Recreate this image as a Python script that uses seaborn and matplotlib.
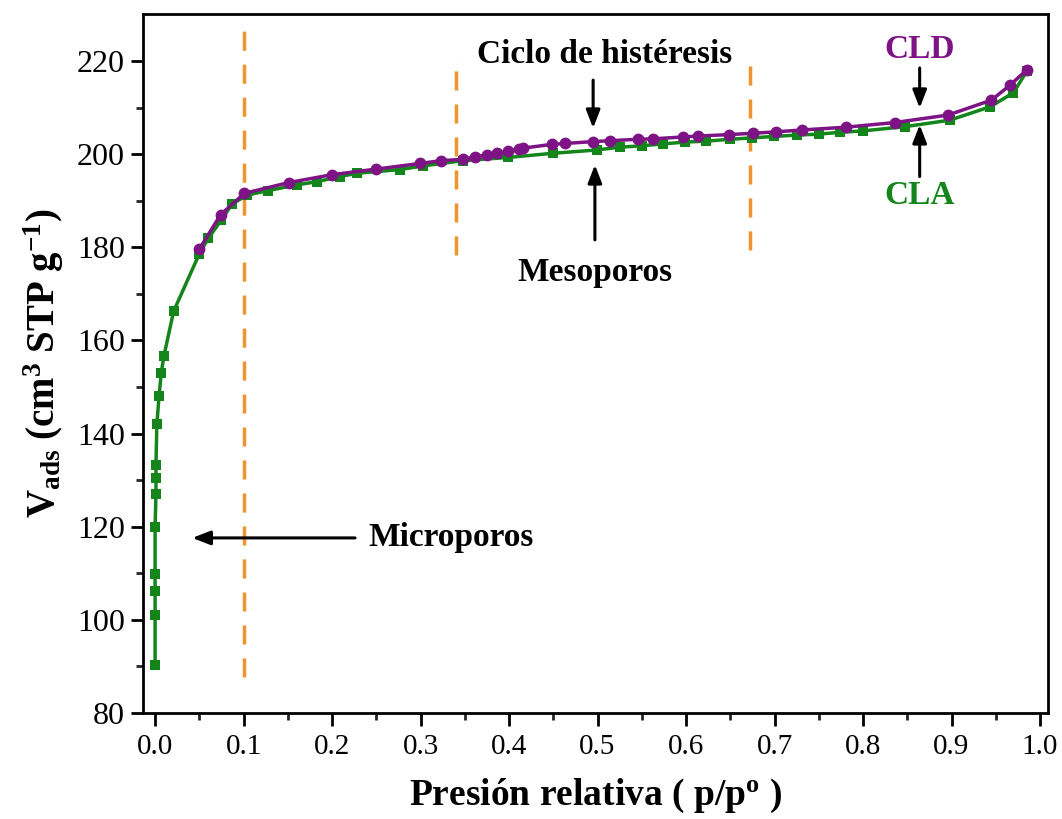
import numpy as np
import pandas as pd
import matplotlib
matplotlib.use("Agg")
import matplotlib.pyplot as plt
import seaborn as sns

# ---- data ----
cla_p = [0.000, 0.000, 0.000, 0.000, 0.000, 0.001, 0.001, 0.001, 0.002, 0.0045,
         0.007, 0.010, 0.021, 0.050, 0.060, 0.075, 0.087, 0.104, 0.128, 0.160,
         0.183, 0.209, 0.228, 0.277, 0.303, 0.348, 0.399, 0.450, 0.499, 0.525,
         0.550, 0.574, 0.599, 0.623, 0.650, 0.674, 0.699, 0.725, 0.750, 0.774,
         0.800, 0.847, 0.898, 0.944, 0.970, 0.985]
cla_v = [90.3, 101.0, 106.3, 109.8, 120.0, 127.0, 130.5, 133.3, 142.0, 148.1,
         153.1, 156.7, 166.3, 178.6, 181.9, 185.9, 189.3, 191.2, 192.2, 193.4,
         194.1, 195.2, 195.9, 196.7, 197.5, 198.6, 199.3, 200.2, 200.9, 201.5,
         201.8, 202.2, 202.6, 202.8, 203.2, 203.5, 203.8, 204.1, 204.3, 204.7,
         205.0, 205.9, 207.3, 210.2, 213.2, 217.8]

cld_p = [0.050, 0.074, 0.101, 0.151, 0.200, 0.250, 0.299, 0.323, 0.348, 0.362,
         0.375, 0.386, 0.399, 0.411, 0.416, 0.448, 0.463, 0.495, 0.514, 0.546,
         0.563, 0.597, 0.614, 0.648, 0.676, 0.702, 0.731, 0.781, 0.836, 0.896,
         0.945, 0.966, 0.985]
cld_v = [179.6, 187.0, 191.6, 193.9, 195.6, 196.8, 198.0, 198.6, 198.9, 199.5,
         199.8, 200.2, 200.6, 201.1, 201.3, 202.1, 202.3, 202.7, 202.9, 203.2,
         203.3, 203.7, 203.9, 204.2, 204.5, 204.8, 205.2, 205.8, 206.8, 208.4,
         211.6, 214.8, 218.1]

region_lines_x = [0.1, 0.34, 0.672]
region_lines_ymin = [87.7, 178.3, 179.4]
region_lines_ymax = [227.1, 220.9, 221.5]

x_ticks = [0.0, 0.1, 0.2, 0.3, 0.4, 0.5, 0.6, 0.7, 0.8, 0.9, 1.0]
y_ticks = [80, 100, 120, 140, 160, 180, 200, 220]

GREEN = "#13851b"
PURPLE = "#7d1385"
ORANGE = "#f0952e"

sns.set_theme(style="ticks")
plt.rcParams["font.family"] = ["Liberation Serif", "DejaVu Serif"]
plt.rcParams["text.color"] = "black"
plt.rcParams["axes.labelcolor"] = "black"
plt.rcParams["mathtext.fontset"] = "custom"
plt.rcParams["mathtext.rm"] = "Liberation Serif"
plt.rcParams["mathtext.bf"] = "Liberation Serif:bold"
plt.rcParams["mathtext.it"] = "Liberation Serif:italic"

fig = plt.figure(figsize=(10.62, 8.19), dpi=100)
ax = fig.add_axes([0.1347, 0.1294, 0.8521, 0.8535])

df_cla = pd.DataFrame({"p": cla_p, "v": cla_v})
df_cld = pd.DataFrame({"p": cld_p, "v": cld_v})

sns.lineplot(data=df_cla, x="p", y="v", ax=ax, color=GREEN, lw=2.5,
             marker="s", markersize=7.5, markeredgewidth=0, sort=False,
             estimator=None, zorder=3)
sns.lineplot(data=df_cld, x="p", y="v", ax=ax, color=PURPLE, lw=2.5,
             marker="o", markersize=8.5, markeredgewidth=0, sort=False,
             estimator=None, zorder=4)

for xv, y0, y1 in zip(region_lines_x, region_lines_ymin, region_lines_ymax):
    ax.plot([xv, xv], [y0, y1], color=ORANGE, lw=2.5, ls=(0, (5.5, 4)), zorder=2)

ax.set_xlim(-0.0136, 1.009)
ax.set_ylim(80, 230.1)
ax.set_xticks(x_ticks)
ax.set_xticklabels([f"{t:.1f}" for t in x_ticks])
ax.set_yticks(y_ticks)
ax.set_yticklabels([str(t) for t in y_ticks])
ax.set_xticks(np.arange(0.05, 1.0, 0.1), minor=True)
ax.set_yticks(np.arange(90, 230, 20), minor=True)

for s in ax.spines.values():
    s.set_linewidth(2.0)
    s.set_color("black")
ax.tick_params(axis="both", which="major", direction="out", length=9, width=2,
               colors="black", pad=6)
ax.tick_params(axis="x", which="major", labelsize=21)
ax.tick_params(axis="y", which="major", labelsize=23, pad=4)
ax.tick_params(axis="both", which="minor", direction="out", length=5, width=2)
ax.tick_params(top=False, right=False)

ax.set_xlabel(r"Presión relativa ( p/p$^{\mathbf{o}}$ )", fontsize=27,
              fontweight="bold", labelpad=12)
ax.set_ylabel(r"$\mathbf{V_{ads}}$ (cm$^{\mathbf{3}}$ STP g$^{\mathbf{-1}}$)",
              fontsize=28, fontweight="bold", labelpad=8)

# annotations
arrow = dict(arrowstyle="-|>,head_length=0.9,head_width=0.35", color="black",
             lw=2.2, shrinkA=0, shrinkB=0)
FS = 24
ax.annotate("", xy=(0.042, 117.6), xytext=(0.226, 117.6), arrowprops=arrow)
ax.text(0.241, 117.6, "Microporos", fontsize=FS, fontweight="bold",
        ha="left", va="center")

ax.annotate("", xy=(0.497, 197.7), xytext=(0.497, 181.6), arrowprops=arrow)
ax.text(0.497, 174.7, "Mesoporos", fontsize=FS, fontweight="bold",
        ha="center", va="center")

ax.annotate("", xy=(0.495, 205.6), xytext=(0.495, 215.9), arrowprops=arrow)
ax.text(0.508, 221.3, "Ciclo de histéresis", fontsize=FS, fontweight="bold",
        ha="center", va="center")

ax.annotate("", xy=(0.864, 209.9), xytext=(0.864, 218.5), arrowprops=arrow)
ax.text(0.864, 222.4, "CLD", fontsize=FS, fontweight="bold", color=PURPLE,
        ha="center", va="center")

ax.annotate("", xy=(0.864, 206.3), xytext=(0.864, 195.2), arrowprops=arrow)
ax.text(0.864, 191.2, "CLA", fontsize=FS, fontweight="bold", color=GREEN,
        ha="center", va="center")

fig.savefig("out.png", dpi=100)
